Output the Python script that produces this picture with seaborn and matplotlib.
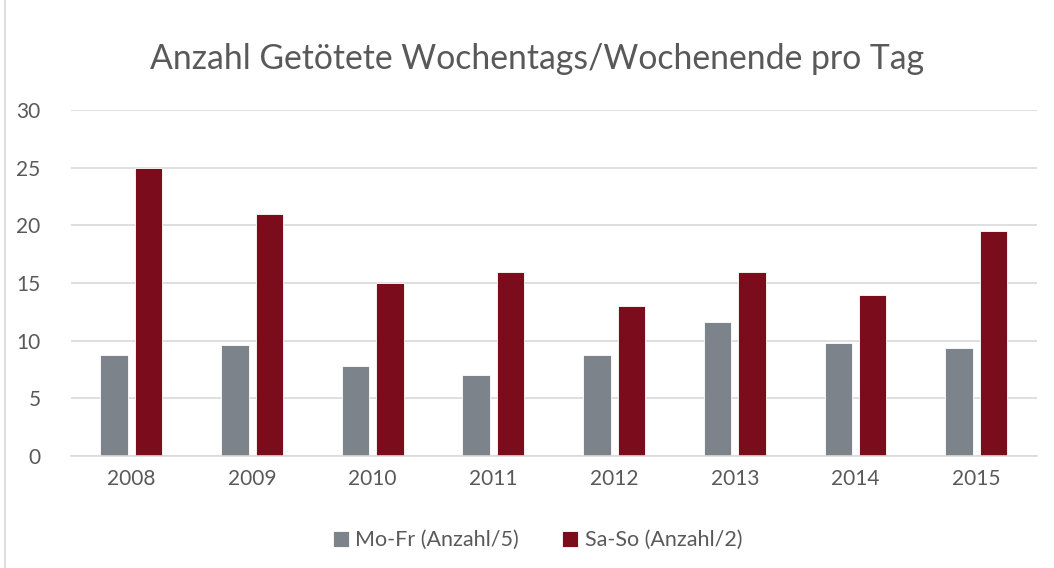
import pandas as pd
import matplotlib.pyplot as plt
import seaborn as sns
from matplotlib.patches import Rectangle

# ==========================================
# DATA
# ==========================================

years = ["2008", "2009", "2010", "2011", "2012", "2013", "2014", "2015"]
mo_fr = [8.8, 9.6, 7.8, 7.0, 8.8, 11.6, 9.8, 9.4]
sa_so = [25.0, 21.0, 15.0, 16.0, 13.0, 16.0, 14.0, 19.5]
series_names = ["Mo-Fr (Anzahl/5)", "Sa-So (Anzahl/2)"]
colors = ["#7C838A", "#7A0C1B"]

data = pd.DataFrame({
    "Jahr": years * 2,
    "Wert": mo_fr + sa_so,
    "Serie": [series_names[0]] * len(years) + [series_names[1]] * len(years),
})

# ==========================================
# PLOT
# ==========================================

sns.set_style("white")
plt.rcParams["font.family"] = ["Lato", "DejaVu Sans"]

fig = plt.figure(figsize=(10.54, 5.68), dpi=100)
ax = fig.add_axes([0.0674, 0.197, 0.916, 0.609])

sns.barplot(
    data=data, x="Jahr", y="Wert", hue="Serie",
    palette=colors, saturation=1, width=0.57, gap=0.2,
    edgecolor="white", linewidth=0.6, ax=ax
)

ax.set_ylim(0, 30)
ax.set_xlim(-0.5, len(years) - 0.5)
ax.set_yticks(range(0, 31, 5))
ax.yaxis.grid(True, color="#D9D9D9", linewidth=1.2)
ax.set_axisbelow(True)
for side in ["top", "right", "left"]:
    ax.spines[side].set_visible(False)
ax.spines["bottom"].set_color("#D9D9D9")
ax.spines["bottom"].set_linewidth(1.2)
ax.tick_params(axis="both", length=0, labelsize=15, labelcolor="#595959")
ax.tick_params(axis="x", pad=9)
ax.tick_params(axis="y", pad=22)
ax.set_xlabel("")
ax.set_ylabel("")

fig.suptitle("Anzahl Getötete Wochentags/Wochenende pro Tag",
             x=0.51, y=0.925, fontsize=24.3, color="#595959")

ax.legend(
    loc="center", bbox_to_anchor=(0.51, 0.049), bbox_transform=fig.transFigure,
    ncol=2, frameon=False, fontsize=15.5, labelcolor="#595959",
    handlelength=0.75, handleheight=0.75, handletextpad=0.3, columnspacing=2.0
)

# chart border
fig.patches.append(Rectangle((0.005, -0.01), 1.2, 1.2, transform=fig.transFigure,
                             fill=False, edgecolor="#D9D9D9", linewidth=1.2))

plt.savefig("out.png", dpi=100)
